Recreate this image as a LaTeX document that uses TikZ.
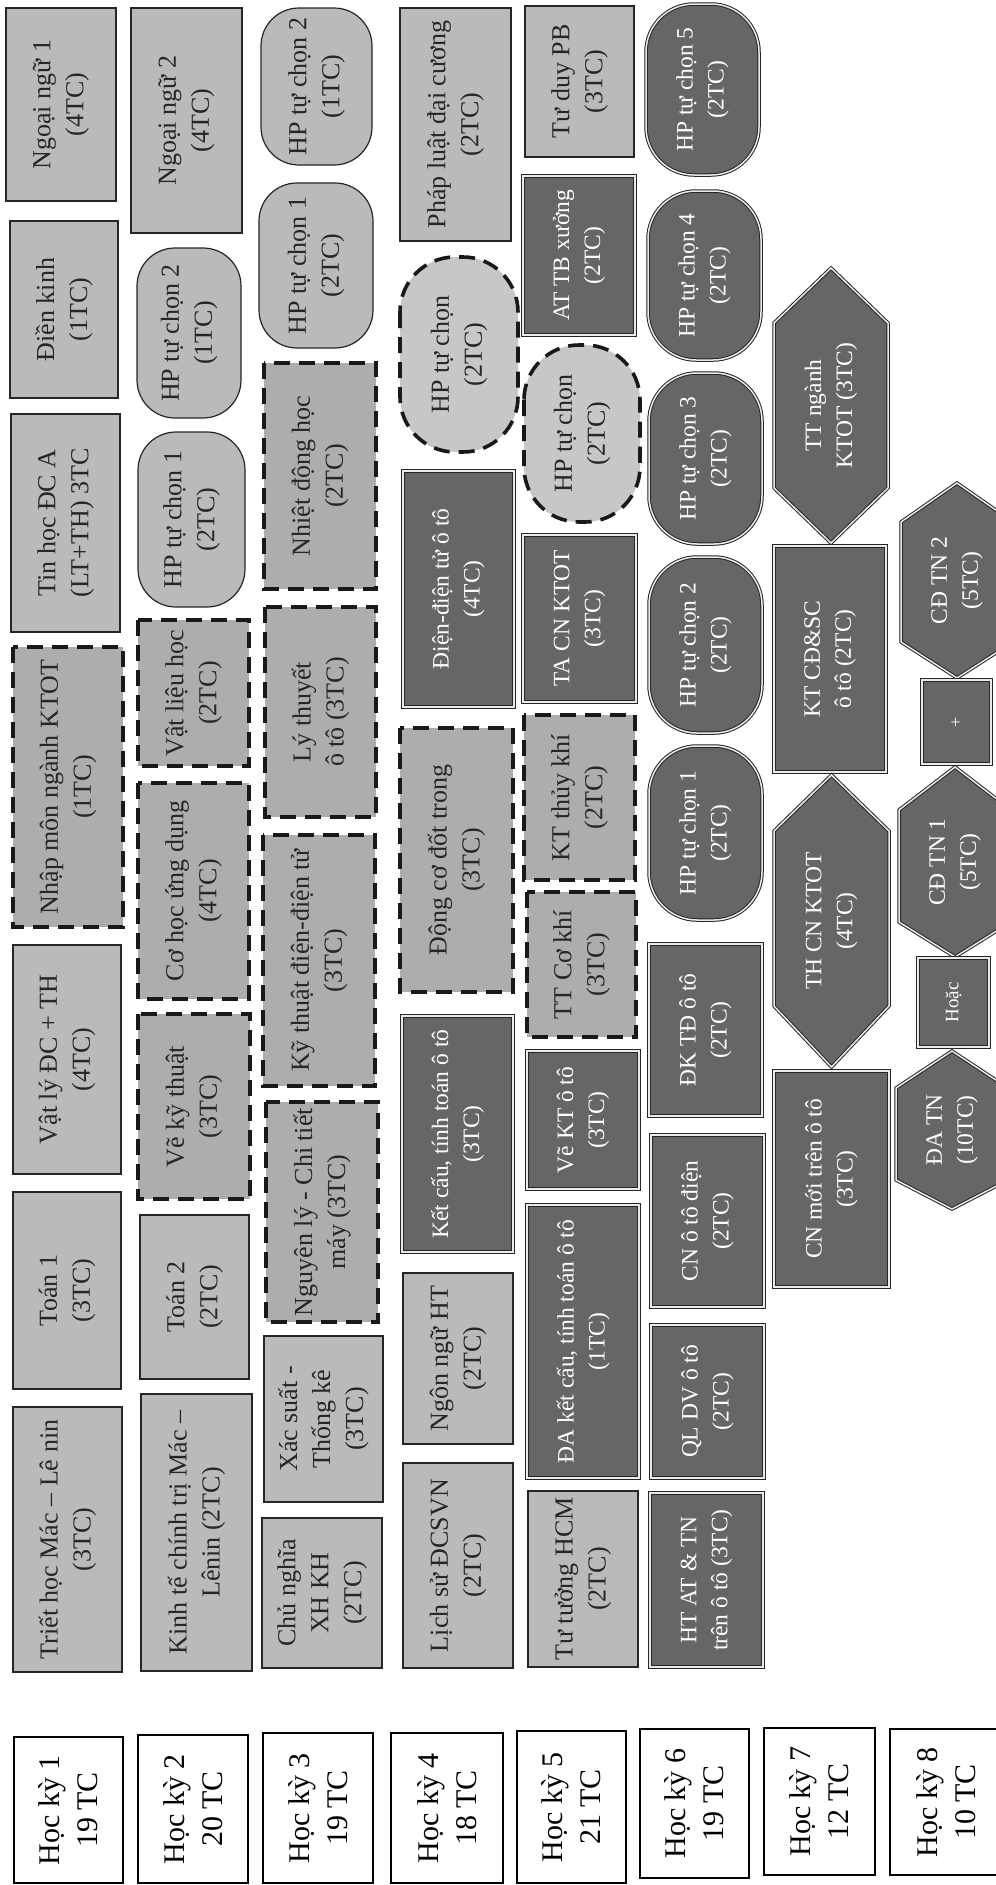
\documentclass[tikz,border=0pt]{standalone}
\usepackage{fontspec}
\setmainfont{Liberation Serif}
\tikzset{
  base/.style={rotate=90, inner sep=0pt, align=center, font=\fontsize{26}{33}\selectfont, line width=1.2pt, text=black!85},
  lt/.style={base, draw=black!85, fill=black!27},
  dk/.style={base, draw=black!85, fill=black!60, text=white, double=black!8, double distance=1.5pt, line width=1pt, font=\fontsize{23.5}{31}\selectfont},
  ds/.style={base, draw=black!90, fill=black!32, dash pattern=on 16pt off 9pt, line width=3.6pt},
  rl/.style={lt, rounded corners=38pt},
  rd/.style={dk, rounded corners=48pt},
  rds/.style={ds, fill=black!22, rounded corners=55pt},
  hk/.style={base, draw=black, fill=white, line width=1.3pt, text=black, font=\fontsize{30}{38}\selectfont},
  hx/.style={draw=black!85, fill=black!60, double=black!8, double distance=1.5pt, line width=1pt},
  hxt/.style={rotate=90, inner sep=0pt, align=center, text=white, font=\fontsize{23.5}{31}\selectfont}
}
\newcommand\crs[7]{\node[#6, minimum width={(#5-#3)*1pt}, minimum height={(#4-#2)*1pt}] (#1) at ({(#2+#4)/2},{(#3+#5)/2}) {#7};}
\newcommand\hexa[8]{\draw[hx] (#2,#5) -- ({(#2+#3)/2},#4) -- (#3,#5) -- (#3,#6) -- ({(#2+#3)/2},#7) -- (#2,#6) -- cycle;
  \node[hxt] (#1) at ({(#2+#3)/2},{(#4+#7)/2}) {#8};}
\begin{document}
\begin{tikzpicture}[x=1pt,y=-1pt]
\useasboundingbox (0,0) rectangle (996,1885);
\clip (0,0) rectangle (996,1885);
\fill[white] (0,0) rectangle (996,1885);
% column 1
\crs{a1}{6}{8}{116}{201}{lt}{Ngoại ngữ 1\\(4TC)}
\crs{a2}{10}{221}{118}{398}{lt}{Điền kinh\\(1TC)}
\crs{a3}{11}{414}{120}{632}{lt}{Tin học ĐC A\\(LT+TH) 3TC}
\crs{a4}{13}{647}{123}{927}{ds}{Nhập môn ngành KTOT\\(1TC)}
\crs{a5}{13}{945}{121}{1174}{lt}{Vật lý ĐC + TH\\(4TC)}
\crs{a6}{13}{1192}{121}{1389}{lt}{Toán 1\\(3TC)}
\crs{a7}{13}{1407}{122}{1672}{lt}{Triết học Mác – Lê nin\\(3TC)}
\crs{h1}{14}{1737}{123}{1883}{hk}{Học kỳ 1\\19 TC}
% column 2
\crs{b1}{131}{8}{242}{233}{lt}{Ngoại ngữ 2\\(4TC)}
\crs{b2}{137}{248}{241}{418}{rl}{HP tự chọn 2\\(1TC)}
\crs{b3}{138}{432}{245}{607}{rl}{HP tự chọn 1\\(2TC)}
\crs{b4}{138}{620}{249}{766}{ds}{Vật liệu học\\(2TC)}
\crs{b5}{138}{783}{249}{999}{ds}{Cơ học ứng dụng\\(4TC)}
\crs{b6}{138}{1014}{250}{1199}{ds}{Vẽ kỹ thuật\\(3TC)}
\crs{b7}{140}{1215}{249}{1379}{lt}{Toán 2\\(2TC)}
\crs{b8}{141}{1394}{252}{1671}{lt}{Kinh tế chính trị Mác –\\Lênin (2TC)}
\crs{h2}{138}{1735}{248}{1883}{hk}{Học kỳ 2\\20 TC}
% column 3
\crs{c1}{261}{8}{372}{165}{rl}{HP tự chọn 2\\(1TC)}
\crs{c2}{259}{183}{373}{348}{rl}{HP tự chọn 1\\(2TC)}
\crs{c3}{264}{363}{376}{589}{ds}{Nhiệt động học\\(2TC)}
\crs{c4}{265}{607}{376}{817}{ds}{Lý thuyết\\ô tô (3TC)}
\crs{c5}{263}{835}{375}{1086}{ds}{Kỹ thuật điện-điện tử\\(3TC)}
\crs{c6}{266}{1102}{378}{1322}{ds}{Nguyên lý - Chi tiết\\máy (3TC)}
\crs{c7}{264}{1336}{383}{1502}{lt}{Xác suất -\\Thống kê\\(3TC)}
\crs{c8}{262}{1518}{382}{1668}{lt}{Chủ nghĩa\\XH KH\\(2TC)}
\crs{h3}{263}{1733}{373}{1883}{hk}{Học kỳ 3\\19 TC}
% column 4
\crs{d1}{400}{8}{511}{241}{lt}{Pháp luật đại cương\\(2TC)}
\crs{d2}{400}{257}{518}{452}{rds}{HP tự chọn\\(2TC)}
\crs{d3}{403}{471}{514}{707}{dk}{Điện-điện tử ô tô\\(4TC)}
\crs{d4}{400}{728}{513}{992}{ds}{Động cơ đốt trong\\(3TC)}
\crs{d5}{402}{1016}{513}{1252}{dk}{Kết cấu, tính toán ô tô\\(3TC)}
\crs{d6}{403}{1273}{513}{1444}{lt}{Ngôn ngữ HT\\(2TC)}
\crs{d7}{403}{1463}{513}{1668}{lt}{Lịch sử ĐCSVN\\(2TC)}
\crs{h4}{391}{1733}{503}{1883}{hk}{Học kỳ 4\\18 TC}
% column 5
\crs{e1}{525}{6}{634}{157}{lt}{Tư duy PB\\(3TC)}
\crs{e2}{523}{176}{635}{335}{dk}{AT TB xưởng\\(2TC)}
\crs{e3}{524}{345}{640}{522}{rds}{HP tự chọn\\(2TC)}
\crs{e4}{523}{535}{636}{702}{dk}{TA CN KTOT\\(3TC)}
\crs{e5}{524}{715}{635}{880}{ds}{KT thủy khí\\(2TC)}
\crs{e6}{527}{892}{636}{1037}{ds}{TT Cơ khí\\(3TC)}
\crs{e7}{527}{1051}{639}{1189}{dk}{Vẽ KT ô tô\\(3TC)}
\crs{e8}{527}{1205}{639}{1478}{dk}{ĐA kết cấu, tính toán ô tô\\(1TC)}
\crs{e9}{528}{1491}{638}{1667}{lt}{Tư tưởng HCM\\(2TC)}
\crs{h5}{517}{1731}{626}{1883}{hk}{Học kỳ 5\\21 TC}
% column 6
\crs{f1}{646}{4}{759}{175}{rd}{HP tự chọn 5\\(2TC)}
\crs{f2}{648}{191}{761}{360}{rd}{HP tự chọn 4\\(2TC)}
\crs{f3}{649}{373}{762}{544}{rd}{HP tự chọn 3\\(2TC)}
\crs{f4}{649}{557}{762}{733}{rd}{HP tự chọn 2\\(2TC)}
\crs{f5}{649}{746}{762}{920}{rd}{HP tự chọn 1\\(2TC)}
\crs{f6}{649}{944}{762}{1116}{dk}{ĐK TĐ ô tô\\(2TC)}
\crs{f7}{651}{1135}{764}{1307}{dk}{CN ô tô điện\\(2TC)}
\crs{f8}{651}{1325}{764}{1478}{dk}{QL DV ô tô\\(2TC)}
\crs{f9}{650}{1493}{763}{1667}{dk}{HT AT \& TN\\trên ô tô (3TC)}
\crs{h6}{640}{1729}{749}{1878}{hk}{Học kỳ 6\\19 TC}
% column 7
\hexa{g1}{774}{888}{268}{323}{488}{543}{TT ngành\\KTOT (3TC)}
\crs{g2}{774}{546}{886}{772}{dk}{KT CĐ\&SC\\ô tô (2TC)}
\hexa{g3}{774}{889}{775}{831}{1006}{1067}{TH CN KTOT\\(4TC)}
\crs{g4}{774}{1071}{889}{1287}{dk}{CN mới trên ô tô\\(3TC)}
\crs{h7}{764}{1728}{875}{1875}{hk}{Học kỳ 7\\12 TC}
% column 8
\hexa{k1}{901}{1013}{483}{522}{642}{678}{CĐ TN 2\\(5TC)}
\crs{k2}{922}{680}{991}{764}{dk}{\fontsize{18}{22}\selectfont +}
\hexa{k3}{899}{1011}{767}{810}{922}{957}{CĐ TN 1\\(5TC)}
\crs{k4}{918}{958}{989}{1047}{dk}{\fontsize{19}{22}\selectfont Hoặc}
\hexa{k5}{896}{1008}{1051}{1088}{1180}{1209}{ĐA TN\\(10TC)}
\crs{h8}{890}{1729}{1002}{1875}{hk}{Học kỳ 8\\10 TC}
\end{tikzpicture}
\end{document}
